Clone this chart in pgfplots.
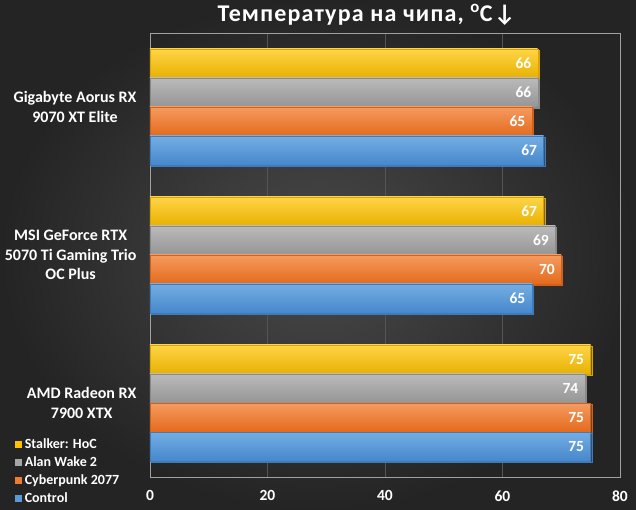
\documentclass[border=0pt]{standalone}
\usepackage{pgfplots}
\pgfplotsset{compat=1.18}
\usepackage{fontspec}
\setmainfont{Carlito}
\definecolor{bgin}{HTML}{4A4A4A}
\definecolor{bgout}{HTML}{242424}
\definecolor{yt}{HTML}{FFD447}
\definecolor{yb}{HTML}{E8B100}
\definecolor{yd}{HTML}{D9A400}
\definecolor{ym}{HTML}{FFC000}
\definecolor{gt}{HTML}{BABABA}
\definecolor{gb}{HTML}{959595}
\definecolor{gd}{HTML}{8A8A8A}
\definecolor{gm}{HTML}{A5A5A5}
\definecolor{ot}{HTML}{F59B60}
\definecolor{ob}{HTML}{E46A1C}
\definecolor{od}{HTML}{D0601A}
\definecolor{om}{HTML}{ED7D31}
\definecolor{bt}{HTML}{74ADE2}
\definecolor{bb}{HTML}{4688CC}
\definecolor{bd}{HTML}{3F7BBB}
\definecolor{bm}{HTML}{5B9BD5}
\definecolor{gridc}{HTML}{555555}
\definecolor{framec}{HTML}{A0A0A0}
\pgfplotsset{
  shad/.style={preaction={fill=black, fill opacity=0.45, transform canvas={shift={(1.3bp,-1.3bp)}}}},
  sY/.style={shad, draw=yd, top color=yt, bottom color=yb, bar shift=43.5bp},
  sG/.style={shad, draw=gd, top color=gt, bottom color=gb, bar shift=14.5bp},
  sO/.style={shad, draw=od, top color=ot, bottom color=ob, bar shift=-14.5bp},
  sB/.style={shad, draw=bd, top color=bt, bottom color=bb, bar shift=-43.5bp},
}
\begin{document}
\begin{tikzpicture}
\shade[inner color=bgin, outer color=bgout] (-150bp,-33bp) rectangle (486bp,477bp);
\begin{axis}[
  scale only axis, width=470bp, height=444bp,
  xbar=0pt, bar width=29bp,
  xmin=0, xmax=80, ymin=-0.5, ymax=2.5,
  xtick={0,20,40,60,80},
  ytick={0,1,2},
  yticklabels={{AMD Radeon RX\\7900 XTX},{MSI GeForce RTX\\5070 Ti Gaming Trio\\OC Plus},{Gigabyte Aorus RX\\9070 XT Elite}},
  yticklabel style={align=center, anchor=east, xshift=-10bp, text=white, font=\fontsize{16bp}{19.5bp}\selectfont\bfseries},
  xticklabel style={text=white, font=\fontsize{15.5bp}{18bp}\selectfont\bfseries, yshift=-10bp},
  /pgf/number format/assume math mode=true,
  major tick length=0pt,
  axis line style={draw=framec, line width=0.8bp},
  xmajorgrids, grid style={draw=gridc, line width=0.6bp},
  point meta=x,
  nodes near coords,
  every node near coord/.append style={anchor=east, xshift=-3bp, text=white, font=\fontsize{15.5bp}{18bp}\selectfont\bfseries},
  title={Температура на чипа, \textsuperscript{o}C↓},
  title style={at={(0.461,1)}, anchor=base, yshift=5.5bp, text=white, font=\fontsize{24bp}{27bp}\selectfont\bfseries\addfontfeature{LetterSpace=5}},
  legend style={at={(-0.287,0.093)}, anchor=north west, draw=none, fill=none, text=white,
    font=\fontsize{14bp}{16bp}\selectfont\bfseries, inner sep=0pt, row sep=0bp,
    /tikz/every even column/.append style={column sep=6bp},
    nodes={text height=10bp, text depth=3bp, inner sep=2.5bp}},
  legend cell align=left,
  legend image code/.code={\path[#1] (0bp,-3.5bp) rectangle (7bp,3.5bp);},
]
\addlegendimage{fill=ym, draw=none}
\addlegendimage{fill=gm, draw=none}
\addlegendimage{fill=om, draw=none}
\addlegendimage{fill=bm, draw=none}
\legend{Stalker: HoC, Alan Wake 2, Cyberpunk 2077, Control}
% Gigabyte (y=2)
\addplot[forget plot, sY] coordinates {(66,2)};
\addplot[forget plot, sG] coordinates {(66,2)};
\addplot[forget plot, sO] coordinates {(65,2)};
\addplot[forget plot, sB] coordinates {(67,2)};
% MSI (y=1)
\addplot[forget plot, sY] coordinates {(67,1)};
\addplot[forget plot, sG] coordinates {(69,1)};
\addplot[forget plot, sO] coordinates {(70,1)};
\addplot[forget plot, sB] coordinates {(65,1)};
% AMD (y=0)
\addplot[forget plot, sY] coordinates {(75,0)};
\addplot[forget plot, sG] coordinates {(74,0)};
\addplot[forget plot, sO] coordinates {(75,0)};
\addplot[forget plot, sB] coordinates {(75,0)};
\end{axis}
\pgfresetboundingbox
\path (-150bp,-33bp) rectangle (486bp,477bp);
\end{tikzpicture}
\end{document}
